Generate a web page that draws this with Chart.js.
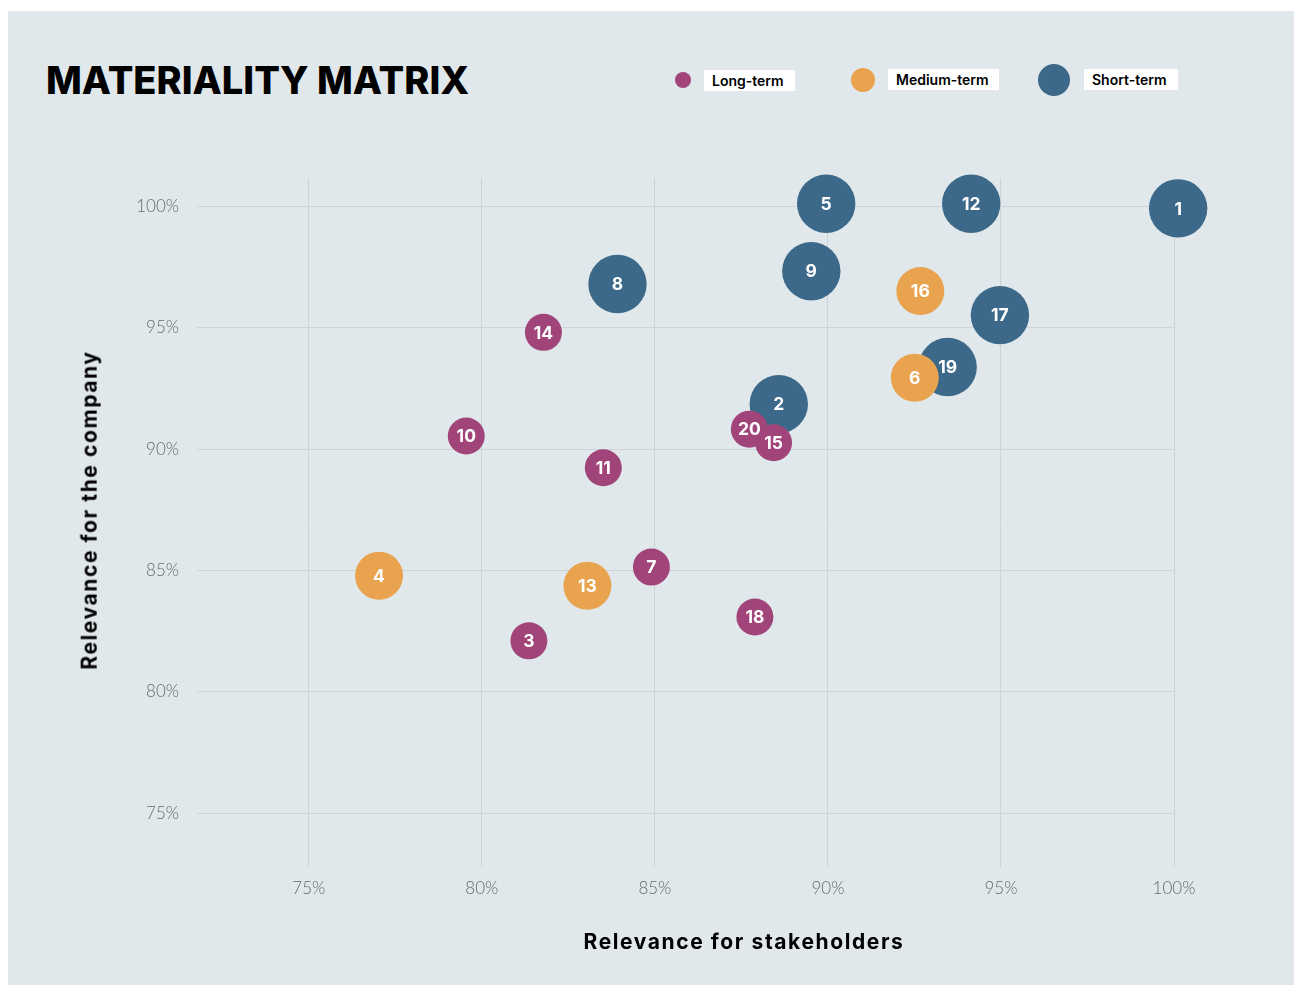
<!DOCTYPE html>
<html>
<head>
<meta charset="utf-8">
<script src="https://cdn.jsdelivr.net/npm/chart.js@4"></script>
<style>
html,body{margin:0;padding:0;background:#ffffff;width:1294px;height:985px;overflow:hidden;}
#panel{position:absolute;left:8px;top:11px;width:1286px;height:974px;background:#e1e8eb;}
#chart{position:absolute;left:0;top:0;}
.title{position:absolute;left:46px;top:61px;margin:0;font:800 38px/38px Inter,sans-serif;color:#000;white-space:nowrap;}
.leg-dot{position:absolute;border-radius:50%;}
.leg-box{position:absolute;background:#fff;height:21px;font:600 14px/21px Inter,sans-serif;color:#000;white-space:nowrap;padding-left:8px;box-sizing:border-box;}
.axis-title{position:absolute;font:700 21px/24px Inter,sans-serif;letter-spacing:1.6px;color:#000;white-space:nowrap;}
</style>
</head>
<body>
<div id="panel"></div>
<div class="title">MATERIALITY MATRIX</div>

<div class="leg-dot" style="left:675px;top:72px;width:16px;height:16px;background:#a0447a"></div>
<div class="leg-box" style="left:704px;top:70px;width:91px;">Long-term</div>
<div class="leg-dot" style="left:851px;top:68px;width:24px;height:24px;background:#e9a34e"></div>
<div class="leg-box" style="left:888px;top:69px;width:111px;">Medium-term</div>
<div class="leg-dot" style="left:1038px;top:64px;width:32px;height:32px;background:#3c6989"></div>
<div class="leg-box" style="left:1084px;top:69px;width:94px;">Short-term</div>

<canvas id="chart" width="1294" height="985"></canvas>

<div class="axis-title" id="xt" style="left:0;top:930px;">Relevance for stakeholders</div>
<div class="axis-title" id="yt" style="left:0;top:0;">Relevance for the company</div>

<script>
// ---- data ----
const shortIds = ['1', '5', '12', '9', '8', '17', '19', '2'];
const shortX   = [100.12, 89.95, 94.14, 89.52, 83.92, 94.97, 93.46, 88.58];
const shortY   = [99.92, 100.11, 100.11, 97.33, 96.80, 95.52, 93.38, 91.85];

const mediumIds = ['16', '6', '4', '13'];
const mediumX   = [92.67, 92.51, 77.03, 83.05];
const mediumY   = [96.51, 92.94, 84.78, 84.37];

const longIds = ['14', '10', '11', '20', '15', '7', '18', '3'];
const longX   = [81.78, 79.55, 83.51, 87.73, 88.43, 84.90, 87.89, 81.36];
const longY   = [94.81, 90.54, 89.23, 90.82, 90.26, 85.14, 83.08, 82.10];

const xTicks = [75, 80, 85, 90, 95, 100];
const yTicks = [75, 80, 85, 90, 95, 100];

// ---- helpers ----
function pts(xs, ys) { return xs.map((x, i) => ({ x: x, y: ys[i] })); }

const labelPlugin = {
  id: 'bubbleLabels',
  afterDatasetDraw(chart, args) {
    const ds = chart.data.datasets[args.index];
    const meta = args.meta;
    const ctx = chart.ctx;
    ctx.save();
    ctx.font = '700 17.5px Inter, sans-serif';
    ctx.fillStyle = '#ffffff';
    ctx.textAlign = 'center';
    ctx.textBaseline = 'middle';
    meta.data.forEach((el, j) => {
      ctx.fillText(ds.ids[j], el.x, el.y + 1);
    });
    ctx.restore();
  }
};

const gridColor = '#cfd3d6';
const tickFont = { family: 'Lato', size: 17, weight: '300' };

new Chart(document.getElementById('chart'), {
  type: 'bubble',
  data: {
    datasets: [
      // drawing order: higher "order" is drawn first (underneath)
      { label: 'Short-term', ids: shortIds, data: pts(shortX, shortY), order: 3,
        backgroundColor: '#3c6989', borderWidth: 0, radius: 29.2, clip: false },
      { label: 'Medium-term', ids: mediumIds, data: pts(mediumX, mediumY), order: 2,
        backgroundColor: '#e9a34e', borderWidth: 0, radius: 24, clip: false },
      { label: 'Long-term', ids: longIds, data: pts(longX, longY), order: 1,
        backgroundColor: '#a0447a', borderWidth: 0, radius: 18.5, clip: false }
    ]
  },
  options: {
    responsive: false,
    animation: false,
    events: [],
    layout: { padding: { left: 0, right: 120, top: 178, bottom: 0 } },
    plugins: { legend: { display: false }, tooltip: { enabled: false } },
    scales: {
      x: {
        type: 'linear', min: 71.77, max: 100,
        afterBuildTicks: s => { s.ticks = xTicks.map(v => ({ value: v })); },
        afterFit: s => { s.height = 118; },
        border: { display: false },
        grid: { color: gridColor, lineWidth: 1, drawTicks: false },
        ticks: { color: '#666a6e', font: tickFont, padding: 11, callback: v => v + '%' }
      },
      y: {
        type: 'linear', min: 72.78, max: 101.17,
        afterBuildTicks: s => { s.ticks = yTicks.map(v => ({ value: v })); },
        afterFit: s => { s.width = 197; },
        border: { display: false },
        grid: { color: gridColor, lineWidth: 1, drawTicks: false },
        ticks: { color: '#666a6e', font: tickFont, padding: 18, callback: v => v + '%' }
      }
    }
  },
  plugins: [labelPlugin]
});

// center axis titles
const xt = document.getElementById('xt');
xt.style.left = (744 - xt.offsetWidth / 2) + 'px';
xt.style.top = (942 - xt.offsetHeight / 2) + 'px';
const yt = document.getElementById('yt');
yt.style.left = (89 - yt.offsetWidth / 2) + 'px';
yt.style.top = (510 - yt.offsetHeight / 2) + 'px';
yt.style.transform = 'rotate(-90deg)';
</script>
</body>
</html>
